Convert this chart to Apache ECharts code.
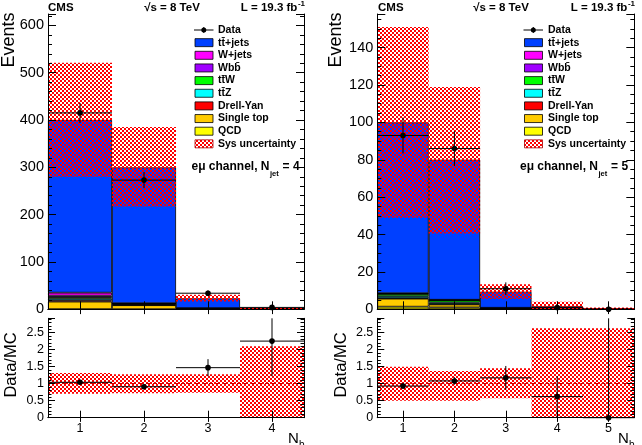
<!DOCTYPE html>
<html><head><meta charset="utf-8">
<script src="https://cdn.jsdelivr.net/npm/echarts@6/dist/echarts.min.js"></script>
<style>html,body{margin:0;padding:0;background:#fff}#c{width:642px;height:445px}</style>
</head><body><div id="c"></div>
<script>
// ---------- data ----------
const binsL = ['1', '2', '3', '4'];
const binsR = ['1', '2', '3', '4', '5'];
const legendLabels = ['t\u0074\u0304+jets', 'W+jets', 'Wb\u0062\u0304', 't\u0074\u0304W', 't\u0074\u0304Z', 'Drell-Yan', 'Single top', 'QCD'];
const procColors = ['#0040ff', '#ff00ff', '#a000ff', '#00ff00', '#00ffff', '#ff0000', '#ffcc00', '#ffff00'];

// N_jet = 4 (left)
const ttjets4 = [365, 287, 20.5, 1.6];
const wjets4 = [6.3, 0.3, 0.2, 0.02];
const wbb4 = [3, 0.3, 0.2, 0.02];
const ttw4 = [3.5, 2, 0.6, 0.05];
const ttz4 = [3.5, 1, 0.5, 0.05];
const dy4 = [2.5, 0.5, 0.2, 0.02];
const stop4 = [16, 8.5, 0.8, 0.1];
const qcd4 = [0.3, 0.2, 0, 0];
const sysLo4 = [280, 217, 16.5, 0];
const sysHi4 = [521, 385, 31, 3.5];
const data4 = [415, 273, 34, 4];
const dataErr4 = [21, 17, 6, 2];
const ratio4 = [1.04, 0.91, 1.47, 2.25];
const ratioLo4 = [0.99, 0.86, 1.22, 1.22];
const ratioHi4 = [1.09, 0.96, 1.72, 3.4];
const rsysLo4 = [0.70, 0.72, 0.73, 0];
const rsysHi4 = [1.31, 1.28, 1.28, 2.1];

// N_jet = 5 (right)
const ttjets5 = [91.4, 74.9, 8.6, 1.3, 0.5];
const wjets5 = [0.2, 0.1, 0, 0, 0];
const wbb5 = [0.2, 0.1, 0, 0, 0];
const ttw5 = [1.2, 1.2, 0.2, 0.1, 0];
const ttz5 = [1.0, 0.8, 0.2, 0.1, 0];
const dy5 = [0.3, 0.3, 0.1, 0, 0];
const stop5 = [4.3, 1.6, 0.3, 0.1, 0];
const qcd5 = [1.4, 1.0, 0, 0, 0];
const sysLo5 = [49, 40.5, 5.5, 0, 0];
const sysHi5 = [151, 119, 13.4, 4.1, 1.0];
const data5 = [93, 86, 11, 1, 0];
const dataErrLo5 = [9.6, 9.3, 3.4, 1, 0];
const dataErrHi5 = [9.6, 9.3, 3.4, 1.3, 1.8];
const ratio5 = [0.93, 1.08, 1.17, 0.62, 0];
const ratioLo5 = [0.84, 0.97, 0.82, 0, 0];
const ratioHi5 = [1.02, 1.19, 1.52, 1.22, 3.5];
const rsysLo5 = [0.5, 0.5, 0.57, 0, 0];
const rsysHi5 = [1.5, 1.37, 1.45, 2.63, 2.63];

const mainTicks4 = [0, 100, 200, 300, 400, 500, 600];
const mainTicks5 = [0, 20, 40, 60, 80, 100, 120, 140];
const ratioTicks = [0, 0.5, 1, 1.5, 2, 2.5];

// ---------- rendering ----------
const FONT = '"Liberation Sans", Arial, Helvetica, sans-serif';
const pc = document.createElement('canvas'); pc.width = 4; pc.height = 4;
const pg = pc.getContext('2d'); pg.fillStyle = '#ff0000';
pg.fillRect(0, 0, 2, 2); pg.fillRect(2, 2, 2, 2);
const hatch = { image: pc, repeat: 'repeat' };

const GRIDS = [
  { left: 48, top: 14, width: 256, height: 295.3 },
  { left: 48, top: 318.3, width: 256, height: 99.4 },
  { left: 377.3, top: 14, width: 257, height: 295.3 },
  { left: 377.3, top: 318.3, width: 257, height: 99.4 }
];

const xAxes = [], yAxes = [];
function addX(g, cats, showLabels, tickLen) {
  const base = { type: 'category', gridIndex: g, data: cats, boundaryGap: true, z: 10,
    axisLine: { show: true, lineStyle: { color: '#000', width: 1 } },
    splitLine: { show: false } };
  xAxes.push(Object.assign({}, base, { position: 'bottom',
    axisTick: { show: true, inside: true, alignWithLabel: true, length: tickLen, lineStyle: { color: '#000' } },
    axisLabel: { show: showLabels, color: '#000', fontSize: 12.5, fontFamily: FONT, margin: 4 } }));
  xAxes.push(Object.assign({}, base, { position: 'top',
    axisTick: { show: true, inside: true, alignWithLabel: true, length: tickLen * 0.6, lineStyle: { color: '#000' } },
    axisLabel: { show: false } }));
}
function addY(g, max, interval, minorSplit, ticks, fs, tickLen) {
  const base = { type: 'value', gridIndex: g, min: 0, max: max, interval: interval, z: 10,
    axisLine: { show: true, lineStyle: { color: '#000', width: 1 } },
    splitLine: { show: false },
    minorTick: { show: true, splitNumber: minorSplit, length: tickLen / 2, lineStyle: { color: '#000' } },
    axisTick: { show: true, inside: true, length: tickLen, lineStyle: { color: '#000' } } };
  yAxes.push(Object.assign({}, base, { position: 'left',
    axisLabel: { show: true, color: '#000', fontSize: fs, fontFamily: FONT, margin: 4, showMaxLabel: false,
      formatter: v => ticks.some(t => Math.abs(t - v) < 1e-6) ? String(v) : '' } }));
  yAxes.push(Object.assign({}, base, { position: 'right', axisLabel: { show: false } }));
}
addX(0, binsL, false, 8); addY(0, 624, 100, 5, mainTicks4, 14.5, 8);
addX(1, binsL, true, 7); addY(1, 2.92, 0.5, 5, ratioTicks, 12.5, 7);
addX(2, binsR, false, 8); addY(2, 158, 20, 4, mainTicks5, 14.5, 8);
addX(3, binsR, true, 7); addY(3, 2.92, 0.5, 5, ratioTicks, 12.5, 7);

const series = [];
function stack(ax, arrays) {
  // bottom -> top : QCD, Single top, DY, ttZ, ttW, Wbb, W+jets, tt+jets
  const order = [7, 6, 5, 4, 3, 2, 1, 0];
  order.forEach(k => {
    series.push({ type: 'bar', name: legendLabels[k], stack: 'mc' + ax, xAxisIndex: ax, yAxisIndex: ax,
      barWidth: '100%', data: arrays[k], silent: true, z: 2,
      itemStyle: { color: procColors[k], borderColor: '#000', borderWidth: 0.8 } });
  });
}
function clampY(cs, y) { return Math.max(cs.y, Math.min(cs.y + cs.height, y)); }
function band(ax, lo, hi) {
  series.push({ type: 'custom', xAxisIndex: ax, yAxisIndex: ax, z: 4, silent: true,
    data: lo.map((l, i) => [i, l, hi[i]]),
    renderItem(params, api) {
      const cs = params.coordSys;
      const i = api.value(0);
      const p0 = api.coord([i, api.value(1)]);
      const p1 = api.coord([i, api.value(2)]);
      const w = api.size([1, 0])[0];
      const y0 = clampY(cs, p0[1]), y1 = clampY(cs, p1[1]);
      return { type: 'rect', shape: { x: p0[0] - w / 2, y: y1, width: w, height: y0 - y1 }, style: { fill: hatch } };
    } });
}
function points(ax, vals, lo, hi, withLine) {
  const s = { type: 'custom', xAxisIndex: ax, yAxisIndex: ax, z: 6, silent: true,
    data: vals.map((v, i) => [i, v, lo[i], hi[i]]),
    renderItem(params, api) {
      const cs = params.coordSys;
      const i = api.value(0);
      const c = api.coord([i, api.value(1)]);
      const pl = api.coord([i, api.value(2)]);
      const ph = api.coord([i, api.value(3)]);
      const w = api.size([1, 0])[0];
      return { type: 'group', children: [
        { type: 'line', shape: { x1: c[0], y1: clampY(cs, pl[1]), x2: c[0], y2: clampY(cs, ph[1]) }, style: { stroke: '#000', lineWidth: 1 } },
        { type: 'line', shape: { x1: c[0] - w / 2, y1: c[1], x2: c[0] + w / 2, y2: c[1] }, style: { stroke: '#000', lineWidth: 1 } },
        { type: 'circle', shape: { cx: c[0], cy: c[1], r: 2.8 }, style: { fill: '#000' } }
      ] };
    } };
  if (withLine) s.markLine = { silent: true, symbol: 'none', label: { show: false },
    lineStyle: { color: '#cc0000', type: [4, 3], width: 1 }, data: [{ yAxis: 1 }] };
  series.push(s);
}

stack(0, [ttjets4, wjets4, wbb4, ttw4, ttz4, dy4, stop4, qcd4]);
band(0, sysLo4, sysHi4);
points(0, data4, data4.map((v, i) => v - dataErr4[i]), data4.map((v, i) => v + dataErr4[i]), false);
band(2, rsysLo4, rsysHi4);
points(2, ratio4, ratioLo4, ratioHi4, true);

stack(4, [ttjets5, wjets5, wbb5, ttw5, ttz5, dy5, stop5, qcd5]);
band(4, sysLo5, sysHi5);
points(4, data5, data5.map((v, i) => v - dataErrLo5[i]), data5.map((v, i) => v + dataErrHi5[i]), false);
band(6, rsysLo5, rsysHi5);
points(6, ratio5, ratioLo5, ratioHi5, true);

// ---------- text / legend ----------
const mctx = document.createElement('canvas').getContext('2d');
function tw(text, font) { mctx.font = font; return mctx.measureText(text).width; }
const G = [];
function txt(x, y, text, font, align, va, rot) {
  const e = { type: 'text', x: x, y: y, z: 20, silent: true,
    style: { text: text, font: font, fill: '#000', textAlign: align || 'left', textVerticalAlign: va || 'middle',
      align: align || 'left', verticalAlign: va || 'middle' } };
  if (rot) e.rotation = rot;
  G.push(e);
}
const HB = 'bold 11.5px ' + FONT;
function header(x0, xc, xr) {
  txt(x0, 7.5, 'CMS', HB, 'left');
  txt(xc, 7.5, '\u221As = 8 TeV', HB, 'center');
  const sw = tw('-1', 'bold 8px ' + FONT);
  txt(xr - sw - 0.5, 7.5, 'L = 19.3 fb', HB, 'right');
  txt(xr - sw, 4, '-1', 'bold 8px ' + FONT, 'left');
}
header(48, 172, 305);
header(378, 501, 635);

const TF = '18px ' + FONT, RF = '16.5px ' + FONT;
txt(9, 40, 'Events', TF, 'center', 'middle', Math.PI / 2);
txt(336, 40, 'Events', TF, 'center', 'middle', Math.PI / 2);
txt(11, 365, 'Data/MC', RF, 'center', 'middle', Math.PI / 2);
txt(341.5, 365, 'Data/MC', RF, 'center', 'middle', Math.PI / 2);
function nb(x) {
  txt(x, 439, 'N', '15px ' + FONT, 'left');
  txt(x + 11, 445, 'b', '10px ' + FONT, 'left');
}
nb(288); nb(618);

const LF = 'bold 10.5px ' + FONT;
function legend(bx, tx) {
  const y0 = 30, dy = 12.65;
  G.push({ type: 'line', z: 20, silent: true, shape: { x1: bx - 1, y1: y0, x2: bx + 18.5, y2: y0 }, style: { stroke: '#000', lineWidth: 1 } });
  G.push({ type: 'line', z: 20, silent: true, shape: { x1: bx + 8.8, y1: y0 - 3, x2: bx + 8.8, y2: y0 + 3 }, style: { stroke: '#000', lineWidth: 1 } });
  G.push({ type: 'circle', z: 20, silent: true, shape: { cx: bx + 8.8, cy: y0, r: 2.5 }, style: { fill: '#000' } });
  txt(tx, y0, 'Data', LF, 'left');
  legendLabels.forEach((lab, k) => {
    const y = y0 + dy * (k + 1);
    G.push({ type: 'rect', z: 20, silent: true, shape: { x: bx, y: y - 4, width: 18, height: 8 }, style: { fill: procColors[k], stroke: '#000', lineWidth: 0.8 } });
    txt(tx, y, lab, LF, 'left');
  });
  const ys = y0 + dy * 9;
  G.push({ type: 'rect', z: 20, silent: true, shape: { x: bx, y: ys - 4, width: 18, height: 8 }, style: { fill: hatch, stroke: '#aa0000', lineWidth: 0.8 } });
  txt(tx, ys, 'Sys uncertainty', LF, 'left');
}
legend(195, 218);
legend(524.5, 548);

function channel(x, n) {
  const f = 'bold 12px ' + FONT, fs = 'bold 7.5px ' + FONT;
  const a = 'e\u03BC channel, N';
  const wa = tw(a, f);
  txt(x, 166.7, a, f, 'left');
  const ws = tw('jet', fs);
  txt(x + wa + 0.5, 174, 'jet', fs, 'left');
  txt(x + wa + ws + 1, 166.7, ' = ' + n, f, 'left');
}
channel(191.5, 4);
channel(520, 5);

const chart = echarts.init(document.getElementById('c'), null, { renderer: 'canvas', width: 642, height: 445 });
chart.setOption({
  animation: false,
  backgroundColor: '#fff',
  grid: GRIDS.map(g => Object.assign({ containLabel: false }, g)),
  xAxis: xAxes,
  yAxis: yAxes,
  series: series,
  graphic: { elements: G }
});
</script></body></html>
